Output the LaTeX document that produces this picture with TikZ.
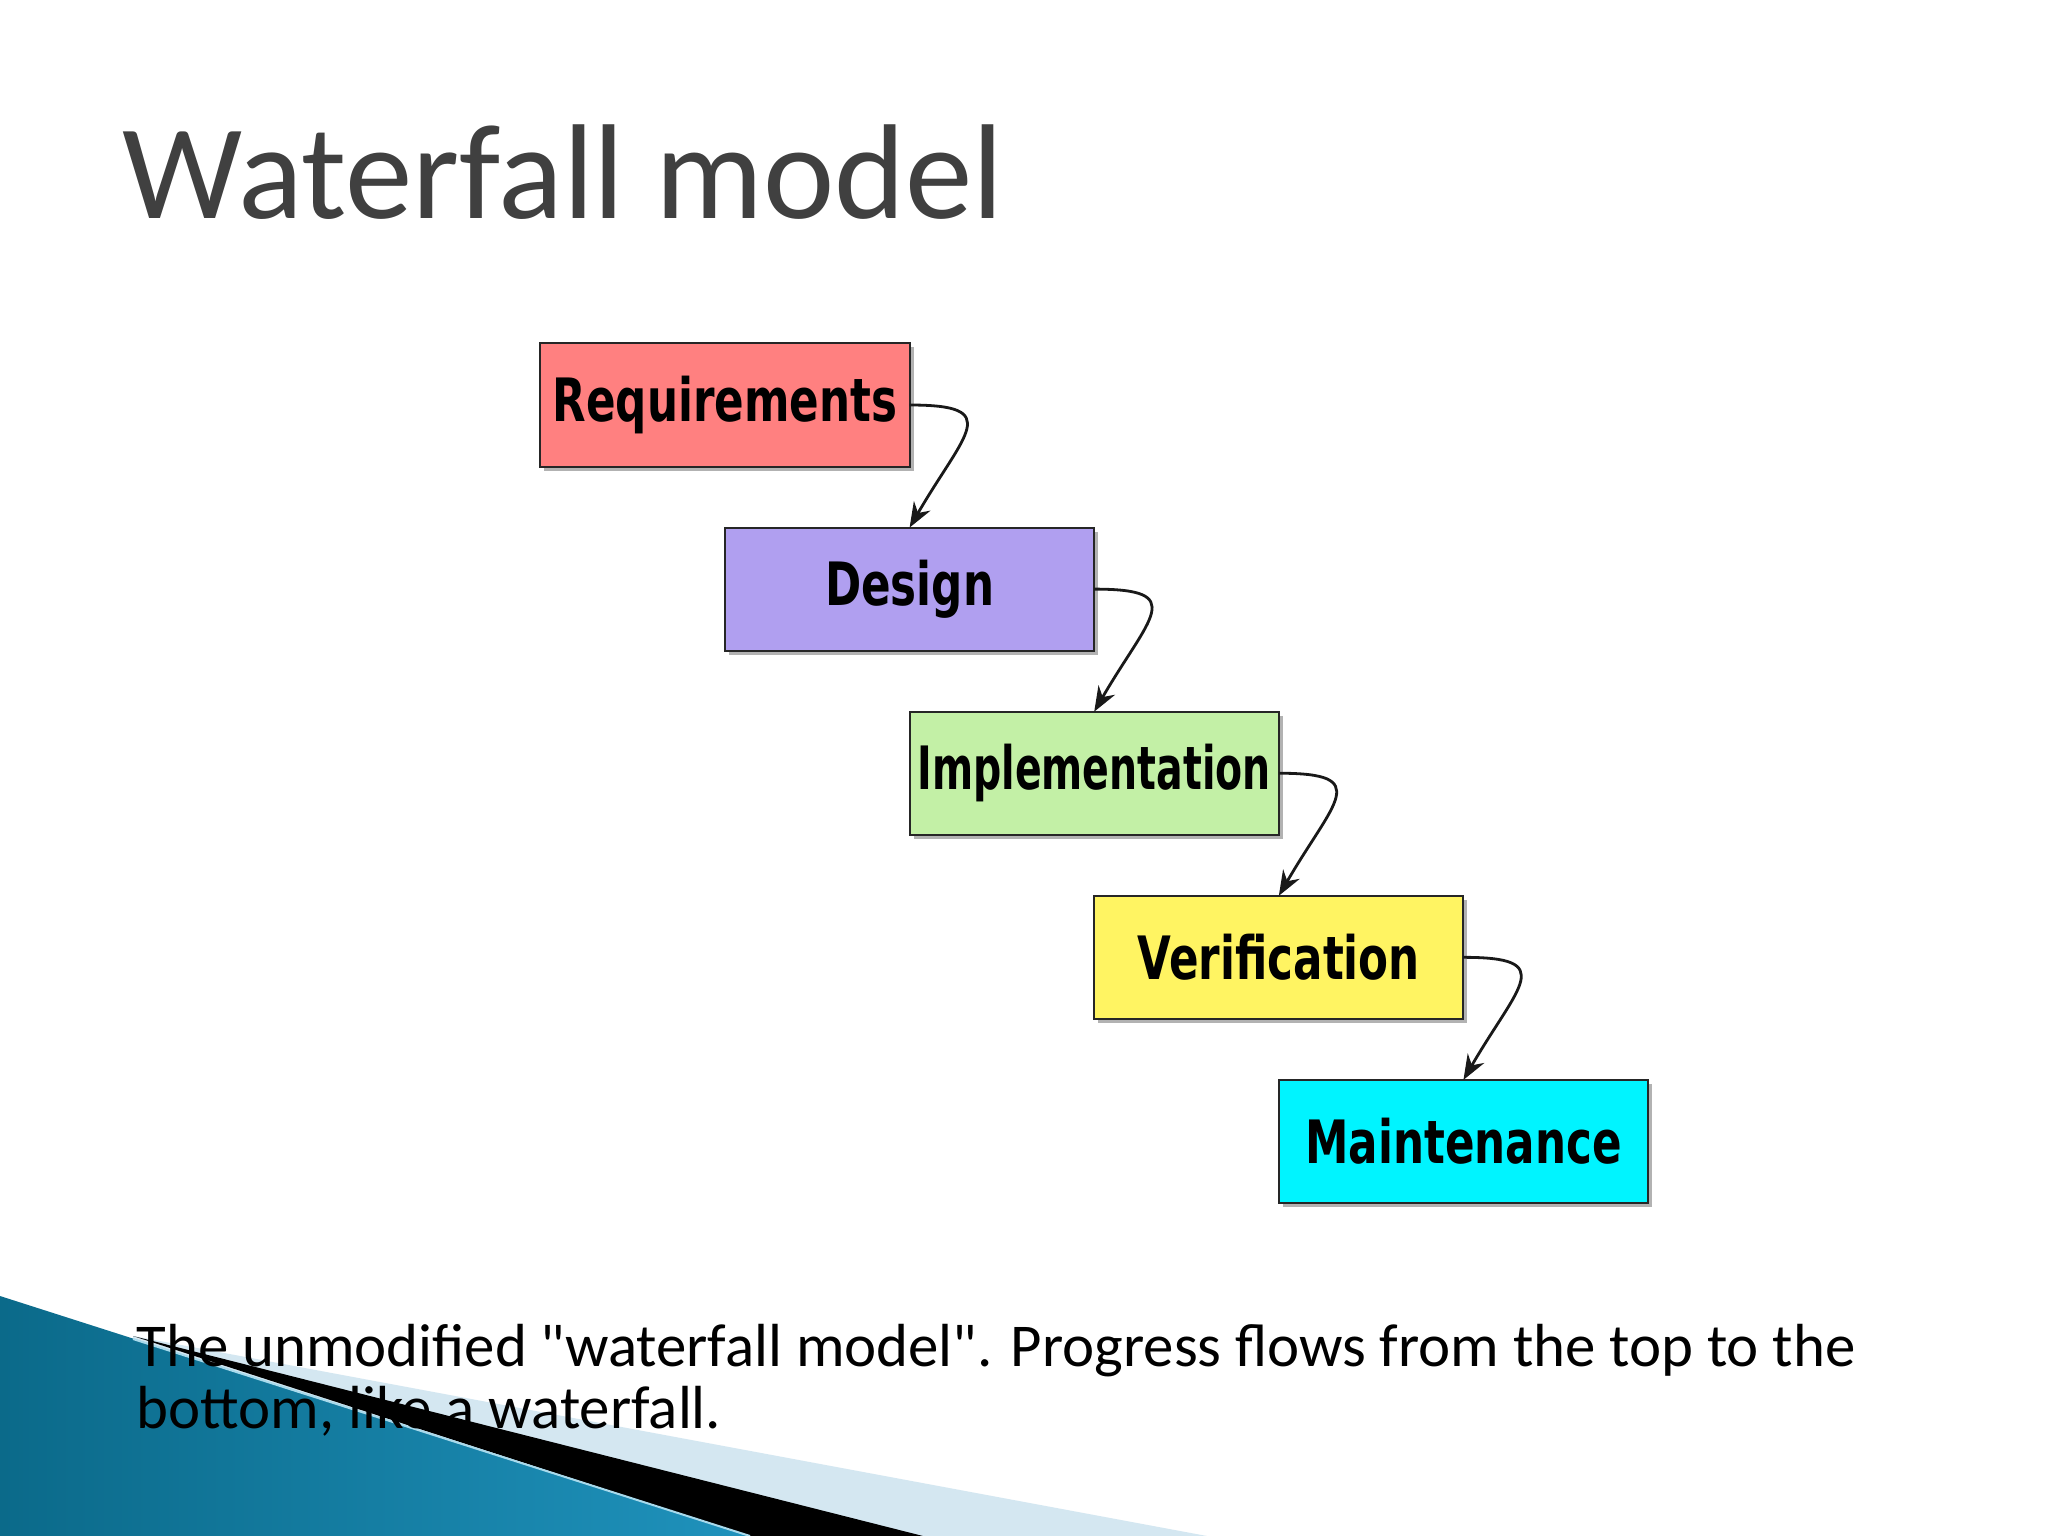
\documentclass[tikz,border=0pt]{standalone}
\usepackage{fontspec}
\usepackage{xcolor}
\usepackage{tikz}
\usetikzlibrary{shapes,arrows.meta,positioning,shadows}
\setmainfont{Carlito}
\newfontfamily\phasefont{DejaVu Sans}[FakeStretch=0.73]
\newfontfamily\phasenarrow{DejaVu Sans}[FakeStretch=0.66]
\definecolor{wfred}{HTML}{FF8080}
\definecolor{wfpurple}{HTML}{B09FF0}
\definecolor{wfgreen}{HTML}{C3F0A6}
\definecolor{wfyellow}{HTML}{FFF462}
\definecolor{wfcyan}{HTML}{00F4FF}
\definecolor{wftitle}{HTML}{404040}
\definecolor{wfteal}{HTML}{0B6A8A}
\definecolor{wfsky}{HTML}{52BCDD}
\definecolor{wfmid}{HTML}{1F92BC}
\definecolor{wfpale}{HTML}{D4E7F1}
\definecolor{wfglint}{HTML}{A8DAEC}
\tikzset{
    phase/.style={rectangle, draw=black!85, line width=0.02cm, fill=#1,
        minimum width=3.69cm, minimum height=1.23cm, inner sep=0pt,
        outer sep=0pt,
        font=\phasefont\bfseries\fontsize{17}{20}\selectfont,
        drop shadow={shadow xshift=0.04cm, shadow yshift=-0.04cm,
            opacity=0.3, fill=black}},
    flowarrow/.style={-{Stealth[length=0.25cm, width=0.19cm]},
        line width=0.028cm, color=black!90},
    slidetitle/.style={font=\fontsize{38.4}{44}\selectfont, color=wftitle,
        inner sep=0pt},
    caption/.style={font=\fontsize{17.3}{17.6}\selectfont, align=left,
        inner sep=0pt},
}

\begin{document}
\begin{tikzpicture}[x=0.01cm, y=-0.01cm]

    \useasboundingbox[fill=white] (0,0) rectangle (2048,1536);

    % -- Corner swoosh --------------------------------------------------------
    \fill[wfpale] (133,1336) -- (1207,1536) -- (133,1536) -- cycle;
    \fill[black] (133,1336) -- (923,1536) -- (750,1536) -- cycle;
    \shade[left color=wfteal, middle color=wfsky, right color=wfmid]
        (0,1296) -- (750,1536) -- (0,1536) -- cycle;
    \draw[wfglint, line width=0.02cm] (133,1339) -- (750,1536);

    % -- Title ----------------------------------------------------------------
    \node[slidetitle, anchor=base west] (title) at (122,218) {Waterfall model};

    % -- Phases ---------------------------------------------------------------
    \node[phase=wfred] (req) at (725,405) {Requirements};
    \node[phase=wfpurple, below=0.61cm of req.south east, anchor=north]
        (des) {Design};
    \node[phase=wfgreen, below=0.61cm of des.south east, anchor=north]
        (imp) {\phasenarrow Implementation};
    \node[phase=wfyellow, below=0.61cm of imp.south east, anchor=north]
        (ver) {Verification};
    \node[phase=wfcyan, below=0.61cm of ver.south east, anchor=north]
        (mnt) {Maintenance};

    % -- Arrows ---------------------------------------------------------------
    \draw[flowarrow] (req.east) .. controls +(95,0) and +(55,-95) .. (des.north);
    \draw[flowarrow] (des.east) .. controls +(95,0) and +(55,-95) .. (imp.north);
    \draw[flowarrow] (imp.east) .. controls +(95,0) and +(55,-95) .. (ver.north);
    \draw[flowarrow] (ver.east) .. controls +(95,0) and +(55,-95) .. (mnt.north);

    % -- Caption --------------------------------------------------------------
    \node[caption, anchor=base west] (note) at (136,1428)
        {The unmodified \textquotedbl waterfall model\textquotedbl. Progress flows from the top to the\\
         bottom, like a waterfall.};

\end{tikzpicture}
\end{document}
